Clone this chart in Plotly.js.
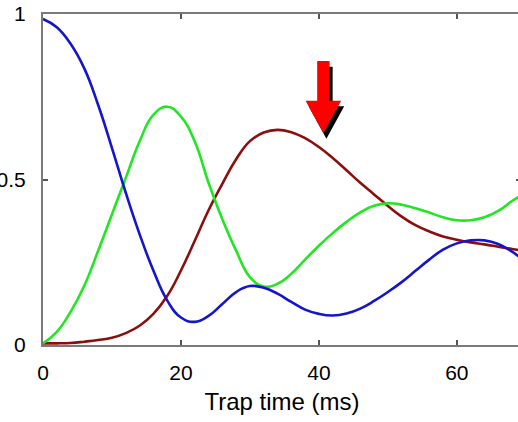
<!DOCTYPE html>
<html>
<head>
<meta charset="utf-8">
<script src="https://cdn.plot.ly/plotly-3.0.1.min.js"></script>
<style>
html,body{margin:0;padding:0;overflow:hidden;background:#fff;}
#chart{width:524px;height:422px;}
</style>
</head>
<body>
<div id="chart"></div>
<script>
// Trap time (ms)
const trapTime = [0,2,4,6,8,10,12,14,16,18,20,22,24,26,28,30,32,34,36,38,40,42,44,46,48,50,52,54,56,58,60,62,64,66,68,69.3];
// Blue series
const blueVals = [0.985,0.96,0.91,0.835,0.725,0.595,0.46,0.335,0.225,0.135,0.083,0.07,0.088,0.124,0.16,0.178,0.173,0.155,0.13,0.107,0.094,0.089,0.095,0.11,0.133,0.16,0.19,0.224,0.258,0.288,0.307,0.316,0.316,0.305,0.282,0.262];
// Green series
const greenVals = [0.005,0.04,0.1,0.18,0.285,0.395,0.505,0.615,0.695,0.72,0.69,0.615,0.49,0.38,0.285,0.205,0.177,0.185,0.215,0.258,0.3,0.338,0.372,0.401,0.421,0.428,0.424,0.413,0.4,0.386,0.377,0.377,0.386,0.405,0.435,0.452];
// Dark red series
const redVals = [0.005,0.005,0.006,0.01,0.015,0.022,0.036,0.058,0.094,0.148,0.225,0.315,0.407,0.487,0.561,0.616,0.642,0.65,0.643,0.625,0.598,0.565,0.528,0.49,0.455,0.42,0.388,0.362,0.343,0.328,0.318,0.31,0.304,0.297,0.29,0.286];
const xTicks = [0,20,40,60];
const yTicks = [0,0.5,1];
const yTickText = ['0','0.5','1'];

function line(y, color){
  return {x: trapTime, y: y, type:'scatter', mode:'lines',
    line:{color:color, width:2.6, shape:'spline', smoothing:1.3},
    hoverinfo:'skip', showlegend:false};
}
const traces = [line(redVals,'#8b0f0f'), line(greenVals,'#22e622'), line(blueVals,'#1515cc')];

// arrow (annotation) geometry in data units
const tipX = 40.65, tipY = 0.64, headY = 0.738, shaftTop = 0.858, headHW = 2.58, shaftHW = 0.9;
function arrowPath(dx, dy){
  const p = [
    [tipX-shaftHW, shaftTop],[tipX+shaftHW, shaftTop],[tipX+shaftHW, headY],
    [tipX+headHW, headY],[tipX, tipY],[tipX-headHW, headY],[tipX-shaftHW, headY]
  ];
  return 'M' + p.map(q => (q[0]+dx)+','+(q[1]+dy)).join(' L') + ' Z';
}

const axisCommon = {
  showline:true, linecolor:'#7a7a7a', linewidth:2, mirror:'ticks',
  ticks:'inside', ticklen:5, tickwidth:2, tickcolor:'#555',
  showgrid:false, zeroline:false,
  tickfont:{family:'Liberation Sans, Arial, sans-serif', size:21, color:'#000'}
};

const layout = {
  width:524, height:422,
  margin:{l:43, r:3, t:14, b:77},
  paper_bgcolor:'#fff', plot_bgcolor:'#fff',
  xaxis: Object.assign({}, axisCommon, {
    range:[0,69.3], tickvals:xTicks, ticktext:xTicks.map(String),
    ticklabelstandoff:8,
    title:{text:'Trap time (ms)', standoff:10,
      font:{family:'Liberation Sans, Arial, sans-serif', size:24, color:'#000'}}
  }),
  yaxis: Object.assign({}, axisCommon, {
    range:[0,1], tickvals:yTicks, ticktext:yTickText, ticklabelstandoff:11
  }),
  shapes:[
    {type:'path', xref:'x', yref:'y', path:arrowPath(0.44,-0.017), fillcolor:'#000', line:{width:0}, layer:'above'},
    {type:'path', xref:'x', yref:'y', path:arrowPath(0,0), fillcolor:'#ff0000', line:{width:0}, layer:'above'}
  ]
};
Plotly.newPlot('chart', traces, layout, {displayModeBar:false, staticPlot:true});
</script>
</body>
</html>
